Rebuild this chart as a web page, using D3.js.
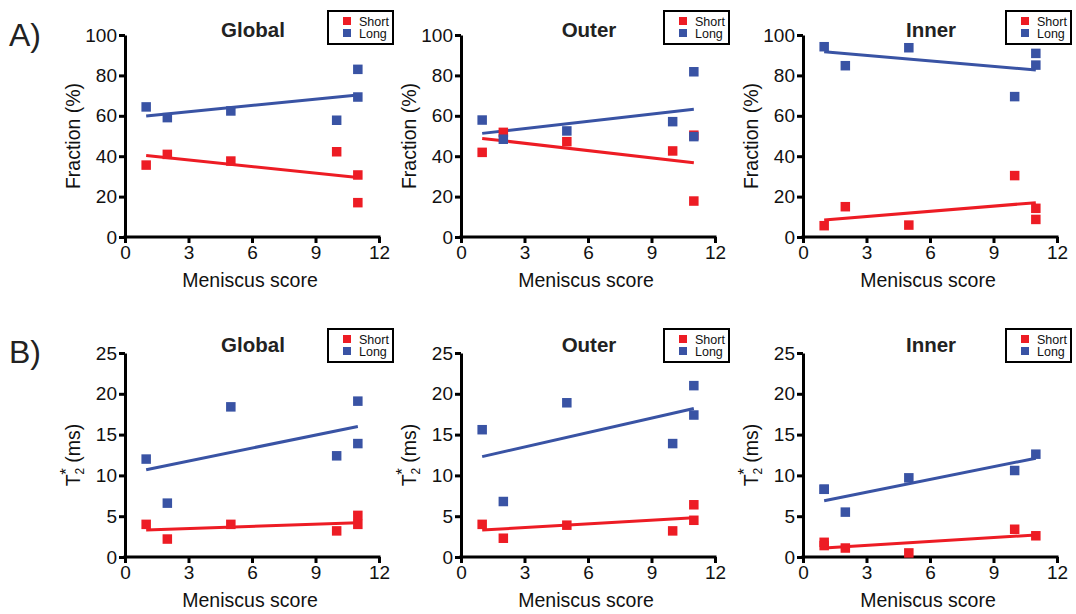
<!DOCTYPE html>
<html><head><meta charset="utf-8">
<script src="https://cdn.jsdelivr.net/npm/d3@7"></script>
<style>
body{margin:0;background:#fff;}
text{font-family:"Liberation Sans",Arial,sans-serif;}
</style></head>
<body><svg id="c" width="1076" height="614"></svg>
<script>
// ---- data ----
const seriesNames = ["Short", "Long"];
const panelTitles = ["Global", "Outer", "Inner"];
const xTicks = [0, 3, 6, 9, 12];
const yTicksFraction = [0, 20, 40, 60, 80, 100];
const yTicksT2 = [0, 5, 10, 15, 20, 25];
const fitX = [1, 11];

// Row A: Fraction (%)
const fracGlobalX = [1, 2, 5, 10, 11, 11];
const fracGlobalShort = [35.6, 40.9, 37.6, 42.2, 30.7, 17.0];
const fracGlobalLong = [64.4, 59.1, 62.4, 57.8, 69.3, 83.0];
const fracGlobalShortFit = [40.3, 29.4];
const fracGlobalLongFit = [59.9, 70.3];

const fracOuterX = [1, 2, 5, 10, 11, 11];
const fracOuterShort = [41.9, 51.8, 47.2, 42.6, 50.4, 17.8];
const fracOuterLong = [57.9, 48.4, 52.5, 57.1, 49.7, 81.8];
const fracOuterShortFit = [48.8, 36.8];
const fracOuterLongFit = [51.3, 63.2];

const fracInnerX = [1, 2, 5, 10, 11, 11];
const fracInnerShort = [5.6, 15.0, 5.9, 30.4, 14.2, 8.7];
const fracInnerLong = [94.2, 84.8, 93.7, 69.5, 85.1, 90.9];
const fracInnerShortFit = [8.4, 17.0];
const fracInnerLongFit = [91.7, 82.7];

// Row B: T2* (ms)
const t2GlobalX = [1, 2, 5, 10, 11, 11];
const t2GlobalShort = [4.0, 2.2, 4.0, 3.2, 5.1, 4.0];
const t2GlobalLong = [12.0, 6.6, 18.4, 12.4, 19.1, 13.9];
const t2GlobalShortFit = [3.3, 4.2];
const t2GlobalLongFit = [10.7, 16.0];

const t2OuterX = [1, 2, 5, 10, 11, 11];
const t2OuterShort = [4.0, 2.3, 3.9, 3.2, 6.4, 4.5];
const t2OuterLong = [15.6, 6.8, 18.9, 13.9, 21.0, 17.4];
const t2OuterShortFit = [3.3, 4.8];
const t2OuterLongFit = [12.3, 18.2];

const t2InnerX = [1, 1, 2, 5, 10, 11];
const t2InnerShort = [1.8, 1.4, 1.1, 0.5, 3.4, 2.6];
const t2InnerLong = [8.3, 8.3, 5.5, 9.7, 10.6, 12.6];
const t2InnerShortFit = [1.1, 2.7];
const t2InnerLongFit = [6.9, 12.1];

const colors = {Short: "#ED1C24", Long: "#3953A4"};

// ---- layout ----
const svg = d3.select("#c");
const colX0 = [125, 461, 803];
const plotW = 254;
const rows = [
  {label: "A)", top: 35, bottom: 237, max: 100, ticks: yTicksFraction, ylab: "fraction",
   data: [
     {x: fracGlobalX, s: fracGlobalShort, l: fracGlobalLong, sf: fracGlobalShortFit, lf: fracGlobalLongFit},
     {x: fracOuterX, s: fracOuterShort, l: fracOuterLong, sf: fracOuterShortFit, lf: fracOuterLongFit},
     {x: fracInnerX, s: fracInnerShort, l: fracInnerLong, sf: fracInnerShortFit, lf: fracInnerLongFit}]},
  {label: "B)", top: 353, bottom: 557, max: 25, ticks: yTicksT2, ylab: "t2",
   data: [
     {x: t2GlobalX, s: t2GlobalShort, l: t2GlobalLong, sf: t2GlobalShortFit, lf: t2GlobalLongFit},
     {x: t2OuterX, s: t2OuterShort, l: t2OuterLong, sf: t2OuterShortFit, lf: t2OuterLongFit},
     {x: t2InnerX, s: t2InnerShort, l: t2InnerLong, sf: t2InnerShortFit, lf: t2InnerLongFit}]}
];

rows.forEach((row, ri) => {
  svg.append("text").attr("x", 9).attr("y", ri === 0 ? 46 : 363)
    .attr("font-size", 32).attr("fill", "#222").text(row.label);

  row.data.forEach((d, ci) => {
    const x0 = colX0[ci];
    const xs = d3.scaleLinear().domain([0, 12]).range([x0, x0 + plotW]);
    const ys = d3.scaleLinear().domain([0, row.max]).range([row.bottom, row.top]);
    const g = svg.append("g");

    // axes
    const xa = g.append("g").attr("transform", `translate(0,${row.bottom})`)
      .call(d3.axisBottom(xs).tickValues(xTicks).tickSize(6).tickSizeOuter(0).tickPadding(3));
    const ya = g.append("g").attr("transform", `translate(${x0},0)`)
      .call(d3.axisLeft(ys).tickValues(row.ticks).tickSize(6).tickSizeOuter(0).tickPadding(2));
    [xa, ya].forEach(a => {
      a.selectAll("path,line").attr("stroke", "#000").attr("stroke-width", 3);
      a.selectAll("text").attr("font-size", 19).attr("fill", "#111")
        .attr("font-family", "Liberation Sans, Arial, sans-serif");
    });
    xa.select("path.domain").attr("d", `M${x0 - 1.5},0H${x0 + plotW + 1.5}`);

    // fit lines
    [["Short", d.sf], ["Long", d.lf]].forEach(([name, f]) => {
      g.append("path").datum(fitX.map((xv, i) => [xv, f[i]]))
        .attr("d", d3.line().x(p => xs(p[0])).y(p => ys(p[1])))
        .attr("stroke", colors[name]).attr("stroke-width", 3).attr("fill", "none");
    });
    // points
    const ms = 9.5;
    [["Short", d.s], ["Long", d.l]].forEach(([name, vals]) => {
      g.selectAll(null).data(vals.map((v, i) => [d.x[i], v])).enter().append("rect")
        .attr("x", p => xs(p[0]) - ms / 2).attr("y", p => ys(p[1]) - ms / 2)
        .attr("width", ms).attr("height", ms).attr("fill", colors[name]);
    });

    // title
    svg.append("text").attr("x", x0 + plotW / 2 + 1).attr("y", ri === 0 ? 37 : 352)
      .attr("text-anchor", "middle").attr("font-size", 20.5).attr("font-weight", "bold")
      .attr("fill", "#222").text(panelTitles[ci]);

    // x label
    svg.append("text").attr("x", x0 + plotW / 2 - 2).attr("y", row.bottom + 50)
      .attr("text-anchor", "middle").attr("font-size", 19.5).attr("fill", "#111")
      .text("Meniscus score");

    // y label
    const cy = (row.top + row.bottom) / 2;
    const yl = svg.append("text").attr("transform", `translate(${x0 - 45},${cy}) rotate(-90)`)
      .attr("text-anchor", "middle").attr("font-size", 19.5).attr("fill", "#111");
    if (row.ylab === "fraction") {
      yl.text("Fraction (%)");
    } else {
      yl.append("tspan").text("T");
      yl.append("tspan").attr("font-size", 12).attr("dy", 4).text("2");
      yl.append("tspan").attr("font-size", 17).attr("dx", -7).attr("dy", -12).text("*");
      yl.append("tspan").attr("dy", 8).text(" (ms)");
    }

    // legend
    const lx = x0 + 203, ly = row.top - 24;
    const lg = svg.append("g").attr("transform", `translate(${lx},${ly})`);
    lg.append("rect").attr("width", 65).attr("height", 33).attr("fill", "#fff")
      .attr("stroke", "#000").attr("stroke-width", 2);
    seriesNames.forEach((name, i) => {
      lg.append("rect").attr("x", 15).attr("y", 6 + i * 12).attr("width", 8).attr("height", 8)
        .attr("fill", colors[name]);
      lg.append("text").attr("x", 31).attr("y", 14.5 + i * 12).attr("font-size", 12.5)
        .attr("fill", "#111").text(name);
    });
  });
});
</script></body></html>
